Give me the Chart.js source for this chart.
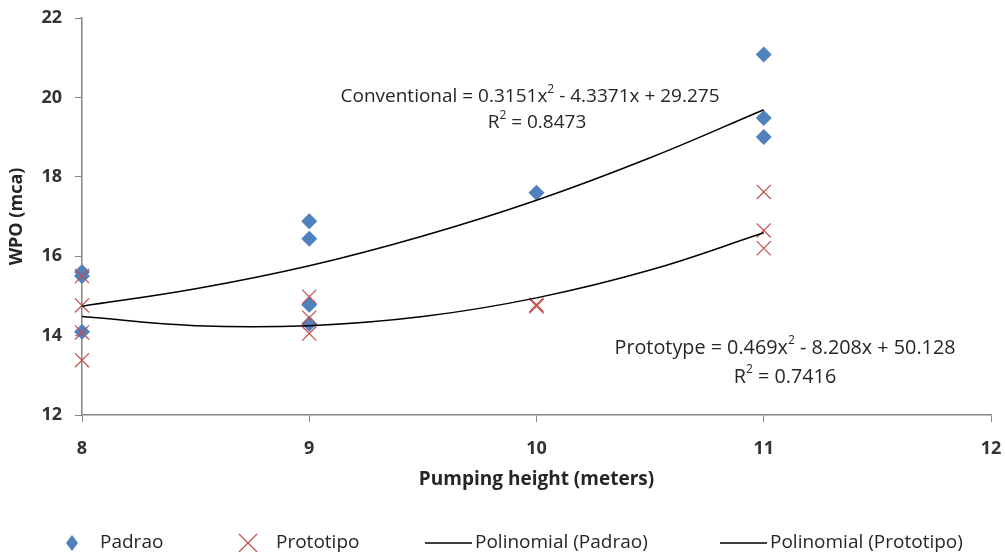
<!DOCTYPE html>
<html>
<head>
<meta charset="utf-8">
<script src="https://cdn.jsdelivr.net/npm/chart.js@4.4.1/dist/chart.umd.min.js"></script>
<style>
  html, body { margin: 0; padding: 0; background: #fff; }
  #wrap { width: 1005px; height: 552px; position: relative; }
</style>
</head>
<body>
<div id="wrap"><canvas id="myChart"></canvas></div>
<script>
// Data -----------------------------------------------------

const padraoX = [8, 8, 8, 9, 9, 9, 9, 10, 11, 11, 11];
const padraoY = [15.6, 15.5, 14.1, 16.88, 16.44, 14.78, 14.3, 17.6, 21.08, 19.48, 19.0];

const prototipoX = [8, 8, 8, 8, 9, 9, 9, 10, 10, 11, 11, 11];
const prototipoY = [15.5, 14.76, 14.08, 13.38, 14.98, 14.45, 14.05, 14.78, 14.74, 17.62, 16.65, 16.2];

// trend curves, sampled from the drawn lines
const trendX = [8, 8.5, 9, 9.5, 10, 10.5, 11];
const trendPadrao = [14.74, 15.18, 15.76, 16.51, 17.41, 18.48, 19.69];
const trendPrototipo = [14.48, 14.25, 14.25, 14.48, 14.95, 15.65, 16.59];

const xTicks = [8, 9, 10, 11, 12];
const yTicks = [12, 14, 16, 18, 20, 22];

const legendLabels = ['Padrao', 'Prototipo', 'Polinomial (Padrao)', 'Polinomial (Prototipo)'];

const FONT = "'Open Sans', 'Liberation Sans', sans-serif";
const AXIS = '#868686';
const TXT = 19;

function pts(xs, ys) {
	return xs.map((x, i) => ({ x: x, y: ys[i] }));
}

// Equations + custom legend ------------------------------

const extras = {
	id: 'extras',
	afterDatasetsDraw(chart) {
		const c = chart.ctx;
		c.save();
		c.fillStyle = '#262626';
		c.textBaseline = 'middle';
		c.textAlign = 'left';

		const big = TXT + 'px ' + FONT;
		const small = '12px ' + FONT;
		// text with a superscript 2, centred on cx
		const eq = (txt, sup, rest, cx, cy, size) => {
			const f = (size || TXT) + 'px ' + FONT;
			c.font = f;
			const w1 = c.measureText(txt).width;
			const w3 = c.measureText(rest).width;
			c.font = small;
			const w2 = c.measureText(sup).width;
			let x = cx - (w1 + w2 + w3) / 2;
			c.font = f;
			c.fillText(txt, x, cy);
			c.fillText(rest, x + w1 + w2, cy);
			c.font = small;
			c.fillText(sup, x + w1, cy - 7);
		};

		eq('Conventional = 0.3151x', '2', ' - 4.3371x + 29.275', 530, 97);
		eq('R', '2', ' = 0.8473', 537, 123);
		eq('Prototype = 0.469x', '2', ' - 8.208x + 50.128', 785, 348, 19.8);
		eq('R', '2', ' = 0.7416', 785, 377, 19.8);

		// legend
		const ly = 543;
		c.font = big;
		c.fillStyle = '#4F81BD';
		c.beginPath();
		c.moveTo(72, ly - 8); c.lineTo(78, ly); c.lineTo(72, ly + 8); c.lineTo(66, ly);
		c.closePath();
		c.fill();
		c.fillStyle = '#262626';
		c.fillText(legendLabels[0], 100, ly);
		c.strokeStyle = '#C0504D';
		c.lineWidth = 1.2;
		c.beginPath();
		c.moveTo(239, ly - 9); c.lineTo(257, ly + 9);
		c.moveTo(257, ly - 9); c.lineTo(239, ly + 9);
		c.stroke();
		c.fillText(legendLabels[1], 276, ly);
		c.strokeStyle = '#000';
		c.lineWidth = 1.5;
		c.beginPath();
		c.moveTo(425, ly); c.lineTo(472, ly);
		c.moveTo(720, ly); c.lineTo(767, ly);
		c.stroke();
		c.fillText(legendLabels[2], 475, ly);
		c.fillText(legendLabels[3], 770, ly);
		c.restore();
	}
};

// Chart --------------------------------------------------

let ctx = document.getElementById('myChart').getContext('2d');
let chart = new Chart(ctx, {
	type: 'scatter',
	data: {
		datasets: [{
			label: legendLabels[0],
			data: pts(padraoX, padraoY),
			pointStyle: 'rectRot',
			pointRadius: 8,
			pointBackgroundColor: '#4F81BD',
			pointBorderColor: '#4F81BD',
			pointBorderWidth: 0,
			clip: false,
			order: 2
		}, {
			label: legendLabels[1],
			data: pts(prototipoX, prototipoY),
			pointStyle: 'crossRot',
			pointRadius: 10,
			pointBorderColor: '#C0504D',
			pointBorderWidth: 1.2,
			clip: false,
			order: 1
		}, {
			type: 'line',
			label: legendLabels[2],
			data: pts(trendX, trendPadrao),
			borderColor: '#000',
			borderWidth: 1.5,
			pointRadius: 0,
			tension: 0.4,
			fill: false,
			order: 0
		}, {
			type: 'line',
			label: legendLabels[3],
			data: pts(trendX, trendPrototipo),
			borderColor: '#000',
			borderWidth: 1.5,
			pointRadius: 0,
			tension: 0.4,
			fill: false,
			order: 0
		}]
	},
	options: {
		responsive: true,
		maintainAspectRatio: false,
		animation: false,
		layout: {
			padding: { left: 0, right: 14, top: 18, bottom: 57 }
		},
		plugins: {
			legend: { display: false },
			tooltip: { enabled: false }
		},
		scales: {
			x: {
				type: 'linear',
				min: 8,
				max: 12,
				afterBuildTicks: (s) => { s.ticks = xTicks.map(v => ({ value: v })); },
				afterFit: (s) => { s.height = 80; s.paddingRight = 0; s.paddingLeft = 0; },
				grid: { drawOnChartArea: false, drawTicks: true, tickLength: 7, color: AXIS },
				border: { color: AXIS, width: 1.5 },
				ticks: { color: '#333', padding: 16, font: { family: FONT, size: 18, weight: 'bold' } },
				title: {
					display: true,
					text: 'Pumping height (meters)',
					color: '#262626',
					padding: { top: 2 },
					font: { family: FONT, size: TXT, weight: 'bold' }
				}
			},
			y: {
				min: 12,
				max: 22,
				afterBuildTicks: (s) => { s.ticks = yTicks.map(v => ({ value: v })); },
				afterFit: (s) => { s.width = 82; s.paddingTop = 0; s.paddingBottom = 0; },
				grid: { drawOnChartArea: false, drawTicks: true, tickLength: 7, color: AXIS },
				border: { color: AXIS, width: 1.5 },
				ticks: { color: '#333', padding: 13, font: { family: FONT, size: 18, weight: 'bold' } },
				title: {
					display: true,
					text: 'WPO (mca)',
					color: '#262626',
					padding: { top: 6, bottom: 0 },
					font: { family: FONT, size: 18, weight: 'bold' }
				}
			}
		}
	},
	plugins: [extras]
});
</script>
</body>
</html>
